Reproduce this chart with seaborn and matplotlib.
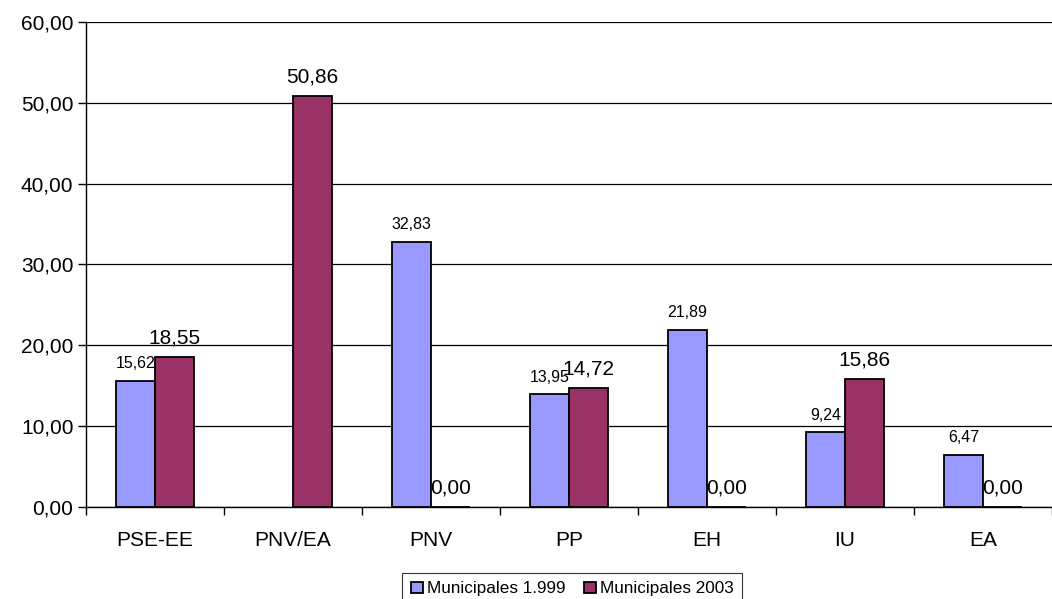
import matplotlib
matplotlib.use("Agg")
from matplotlib import pyplot as plt
from matplotlib.ticker import FuncFormatter, FixedLocator
import numpy as np
import pandas as pd
import seaborn as sns

partidos = ["PSE-EE", "PNV/EA", "PNV", "PP", "EH", "IU", "EA"]
mun_1999 = [15.62, np.nan, 32.83, 13.95, 21.89, 9.24, 6.47]
mun_2003 = [18.55, 50.86, 0.00, 14.72, 0.00, 15.86, 0.00]
series = ["Municipales 1.999", "Municipales 2003"]
colores = ["#9999FF", "#993366"]

df = pd.DataFrame({
    "partido": partidos * 2,
    "valor": mun_1999 + mun_2003,
    "serie": [series[0]] * len(partidos) + [series[1]] * len(partidos),
})

sns.set_style("white")
plt.rcParams["font.family"] = ["Liberation Sans", "DejaVu Sans"]
plt.rcParams["text.color"] = "black"
plt.rcParams["xtick.color"] = "black"
plt.rcParams["ytick.color"] = "black"

f = plt.figure(figsize=(10.52, 5.99), dpi=100)
ax = f.add_axes([0.0817, 0.1536, 0.9183, 0.8097])
sns.barplot(data=df, x="partido", y="valor", hue="serie", order=partidos,
            hue_order=series, palette=colores, width=0.565, gap=0,
            edgecolor="black", linewidth=1.3, saturation=1, ax=ax)

coma = lambda v: f"{v:.2f}".replace(".", ",")
ax.bar_label(ax.containers[0], fmt=coma, padding=7, fontsize=11.5, color="black")
ax.bar_label(ax.containers[1], fmt=coma, padding=7, fontsize=15, color="black")

ax.set_ylim(0, 60)
ax.set_xlim(-0.5, len(partidos) - 0.5)
ax.set_yticks(np.arange(0, 61, 10))
ax.yaxis.set_major_formatter(FuncFormatter(lambda v, p: coma(v)))
ax.yaxis.grid(True, color="black", linewidth=0.9)
ax.set_axisbelow(True)
ax.xaxis.set_minor_locator(FixedLocator(np.arange(-0.5, len(partidos), 1)))
ax.tick_params(axis="x", which="major", length=0, labelsize=15, pad=17)
ax.tick_params(axis="x", which="minor", length=6, width=1, color="black", direction="out")
ax.tick_params(axis="y", length=6, width=1, color="black", direction="out", labelsize=15, pad=3)
ax.tick_params(bottom=True, left=True, which="both")
for s in ["top", "right"]:
    ax.spines[s].set_visible(False)
for s in ["left", "bottom"]:
    ax.spines[s].set_color("black")
    ax.spines[s].set_linewidth(1)
ax.set_xlabel("")
ax.set_ylabel("")

leg = ax.legend(loc="upper center", bbox_to_anchor=(0.5035, -0.136), ncol=2,
                frameon=True, fancybox=False, edgecolor="black", fontsize=12.3,
                handlelength=0.7, handleheight=0.7, handletextpad=0.25,
                columnspacing=1.05, borderpad=0.5, borderaxespad=0)
leg.get_frame().set_linewidth(0.8)

f.savefig("out.png", dpi=100)
